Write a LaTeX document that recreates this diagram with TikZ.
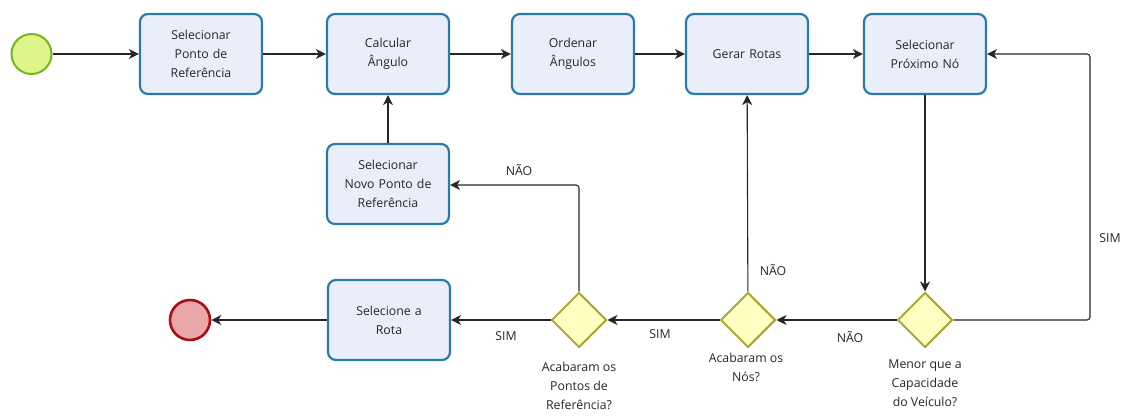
\documentclass[tikz,border=0pt]{standalone}
\usepackage{fontspec}
\setmainfont{Open Sans}
\usetikzlibrary{arrows.meta,shapes.geometric}
\definecolor{taskfill}{HTML}{EAEEFB}
\definecolor{taskline}{HTML}{2B7BA9}
\definecolor{startfill}{HTML}{DDF58C}
\definecolor{startline}{HTML}{78B51B}
\definecolor{endfill}{HTML}{E9A7A9}
\definecolor{endline}{HTML}{A80F12}
\definecolor{gatefill}{HTML}{FFFFC2}
\definecolor{gateline}{HTML}{A9A934}
\definecolor{ink}{HTML}{262626}
\begin{document}
\begin{tikzpicture}[x=1pt,y=-1pt,
  font=\fontsize{12.3}{18.8}\selectfont,
  every node/.style={text=ink},
  task/.style={draw=taskline,fill=taskfill,line width=2.2pt,rounded corners=8pt,
    minimum width=122pt,minimum height=80pt,align=center,text width=116pt,inner sep=0pt},
  startev/.style={circle,draw=startline,fill=startfill,line width=2pt,minimum size=40pt,inner sep=0pt},
  endev/.style={circle,draw=endline,fill=endfill,line width=2.6pt,minimum size=40pt,inner sep=0pt},
  gate/.style={diamond,draw=gateline,fill=gatefill,line width=2pt,minimum width=55pt,minimum height=55pt,inner sep=0pt},
  flow/.style={draw=black!85,line width=1.1pt,-{Stealth[length=10pt,width=10pt,inset=3pt]},rounded corners=3pt},
  lbl/.style={inner sep=0pt},
  gatecap/.style={align=center,inner sep=0pt,anchor=north}]
\useasboundingbox (0,0) rectangle (1130,419);

% events
\node[startev] (start) at (31.5,54) {};
\node[endev] (end) at (190,320) {};

% tasks
\node[task] (ref)   at (201,54)  {Selecionar\\Ponto de\\Referência};
\node[task] (ang)   at (388,54)  {Calcular\\Ângulo};
\node[task] (ord)   at (573,54)  {Ordenar\\Ângulos};
\node[task] (rot)   at (747,54)  {Gerar Rotas};
\node[task] (prox)  at (925,54)  {Selecionar\\Próximo Nó};
\node[task] (novo)  at (388,184) {Selecionar\\Novo Ponto de\\Referência};
\node[task] (sel)   at (389,320) {Selecione a\\Rota};

% gateways
\node[gate] (gref) at (579,320) {};
\node[gate] (gnos) at (748,320) {};
\node[gate] (gcap) at (925,320) {};

\node[gatecap] (tref) at (579,362) {Acabaram os\\Pontos de\\Referência?};
\node[gatecap] (tnos) at (746,353) {Acabaram os\\Nós?};
\node[gatecap] (tcap) at (925,360) {Menor que a\\Capacidade\\do Veículo?};

% corner points of the loops
\coordinate (cr1) at (1090,320);
\coordinate (cr2) at (1090,54);
\coordinate (cl1) at (578,185);

% flows
\draw[flow] (start) -- (ref);
\draw[flow] (ref) -- (ang);
\draw[flow] (ang) -- (ord);
\draw[flow] (ord) -- (rot);
\draw[flow] (rot) -- (prox);
\draw[flow] (prox) -- (gcap);
\draw[flow] (gcap.east) -- (cr1) -- (cr2) -- (prox.east);
\draw[flow] (gcap) -- (gnos);
\draw[flow] (gnos) -- (rot);
\draw[flow] (gnos) -- (gref);
\draw[flow] (gref.north) -- (gref.north |- cl1) -- (novo.east |- cl1);
\draw[flow] (novo) -- (ang);
\draw[flow] (gref) -- (sel);
\draw[flow] (sel) -- (end);

% flow labels
\node[lbl] (l1) at (1110,238) {SIM};
\node[lbl] (l2) at (850,337) {NÃO};
\node[lbl] (l3) at (773,270) {NÃO};
\node[lbl] (l4) at (660,334) {SIM};
\node[lbl] (l5) at (519,170) {NÃO};
\node[lbl] (l6) at (506,336) {SIM};
\end{tikzpicture}
\end{document}
